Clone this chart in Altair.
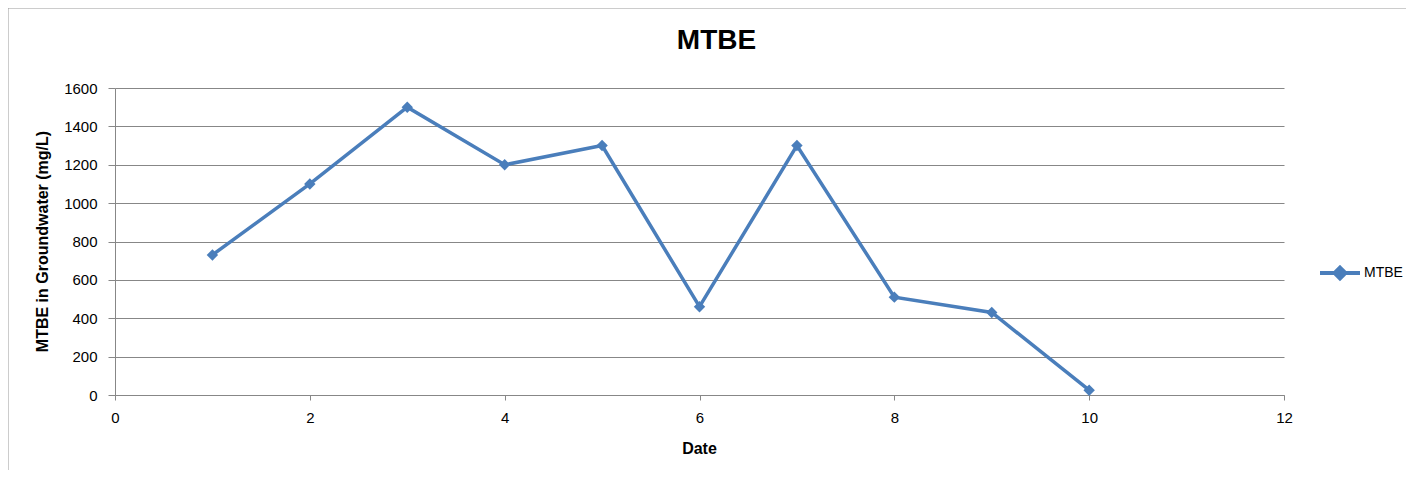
import altair as alt
import pandas as pd

dates = [1, 2, 3, 4, 5, 6, 7, 8, 9, 10]
mtbe = [730, 1100, 1500, 1200, 1300, 460, 1300, 510, 430, 25]
series_name = "MTBE"
x_ticks = [0, 2, 4, 6, 8, 10, 12]
y_ticks = [0, 200, 400, 600, 800, 1000, 1200, 1400, 1600]

df = pd.DataFrame({"Date": dates, "Value": mtbe, "Series": [series_name] * len(dates)})

FONT = "Liberation Sans"
BLUE = "#4A7EBB"
GRAY = "#878787"

color = alt.Color(
    "Series:N",
    scale=alt.Scale(range=[BLUE]),
    legend=alt.Legend(
        title=None,
        orient="none",
        legendX=1203,
        legendY=163,
        symbolType="M-1,0L1,0M0,-0.27L0.27,0L0,0.27L-0.27,0Z",
        symbolSize=1600,
        symbolStrokeWidth=4,
        symbolFillColor=BLUE,
        symbolStrokeColor=BLUE,
        labelFont=FONT,
        labelFontSize=14,
        labelColor="#000000",
        labelOffset=2,
        padding=0,
    ),
)

base = alt.Chart(df).encode(
    x=alt.X(
        "Date:Q",
        scale=alt.Scale(domain=[0, 12], nice=False),
        axis=alt.Axis(
            values=x_ticks,
            format="d",
            title="Date",
            grid=False,
            tickSize=5,
            labelPadding=10,
            labelFlush=False,
            titleX=584,
            titleY=53,
            titleBaseline="middle",
            titleAlign="center",
        ),
    ),
    y=alt.Y(
        "Value:Q",
        scale=alt.Scale(domain=[0, 1600], nice=False),
        axis=alt.Axis(
            values=y_ticks,
            format="d",
            title="MTBE in Groundwater (mg/L)",
            grid=True,
            tickSize=7,
            labelPadding=11,
            titleX=-73,
            titleY=153,
            titleAngle=-90,
            titleBaseline="middle",
            titleAlign="center",
        ),
    ),
    color=color,
)

line = base.mark_line(strokeWidth=3.5)
points = base.mark_point(shape="diamond", size=130, filled=True, opacity=1)

border_df = pd.DataFrame({"k": [0]})
border_left = alt.Chart(border_df).mark_rule(color="#9a9a9a", strokeWidth=1).encode(
    x=alt.value(-107), y=alt.value(-80), y2=alt.value(400)
)
border_top = alt.Chart(border_df).mark_rule(color="#9a9a9a", strokeWidth=1).encode(
    x=alt.value(-107), x2=alt.value(1300), y=alt.value(-80)
)

chart = (
    alt.layer(border_left, border_top, line, points)
    .properties(
        width=1169,
        height=307,
        background="white",
        title=alt.TitleParams(
            "MTBE",
            font=FONT,
            fontSize=28,
            fontWeight="bold",
            color="#000000",
            anchor="middle",
            dx=17,
            offset=-47,
        ),
        autosize=alt.AutoSizeParams(type="none"),
        padding={"left": 107, "top": 80, "right": 122, "bottom": 75},
    )
    .configure_view(stroke=None)
    .configure_axis(
        labelFont=FONT,
        labelFontSize=15,
        labelColor="#000000",
        titleFont=FONT,
        titleFontSize=16,
        titleFontWeight="bold",
        titleColor="#000000",
        domainColor=GRAY,
        tickColor=GRAY,
        gridColor=GRAY,
        gridOpacity=1,
        domainWidth=1,
        gridWidth=1,
    )
)

chart.save("out.html", embed_options={"renderer": "svg", "actions": False})
